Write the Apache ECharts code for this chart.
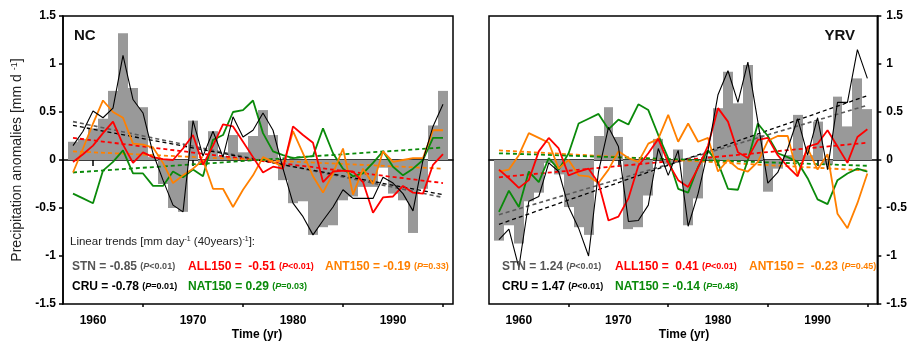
<!DOCTYPE html>
<html>
<head>
<meta charset="utf-8">
<script src="https://cdn.jsdelivr.net/npm/echarts@6/dist/echarts.min.js"></script>
<style>html,body{margin:0;padding:0;background:#fff;}#c{width:910px;height:342px;}</style>
</head>
<body>
<div id="c"></div>
<script>
// ---------- data ----------
const years = [1958,1959,1960,1961,1962,1963,1964,1965,1966,1967,1968,1969,1970,1971,1972,1973,1974,1975,1976,1977,1978,1979,1980,1981,1982,1983,1984,1985,1986,1987,1988,1989,1990,1991,1992,1993,1994,1995];

// NC panel
const ncStn = [0.19,0.22,0.33,0.43,0.72,1.32,0.75,0.55,0.03,-0.25,-0.50,-0.54,0.41,-0.05,0.30,0.04,0.26,0.08,0.25,0.52,0.26,-0.21,-0.45,-0.43,-0.78,-0.70,-0.68,-0.42,-0.38,-0.28,-0.28,-0.08,-0.35,-0.42,-0.76,-0.30,0.36,0.72];
const ncCru = [0.15,0.30,0.51,0.44,0.54,1.09,0.63,0.49,0.07,-0.21,-0.47,-0.54,0.41,0.04,0.30,0.03,0.45,0.24,0.31,0.49,0.31,-0.09,-0.45,-0.59,-0.78,-0.63,-0.49,-0.31,-0.40,-0.40,-0.40,-0.18,-0.24,-0.35,-0.53,0.00,0.35,0.58];
const ncAll = [-0.02,0.06,0.15,0.28,0.40,0.16,-0.03,0.08,0.03,0.01,0.00,0.12,0.26,-0.05,0.15,0.37,0.35,0.19,0.03,-0.13,-0.07,-0.09,0.35,0.26,0.18,-0.23,-0.12,-0.11,-0.12,-0.23,-0.55,-0.39,-0.38,-0.27,-0.34,-0.35,-0.05,0.06];
const ncAnt = [-0.13,0.12,0.38,0.62,0.50,0.44,0.17,0.16,0.13,-0.03,-0.24,-0.16,-0.09,0.00,-0.30,-0.30,-0.49,-0.31,-0.16,0.03,-0.02,-0.07,0.30,0.07,-0.17,-0.34,-0.14,0.12,-0.36,-0.09,-0.25,0.09,-0.02,0.00,0.02,0.02,0.31,0.31];
const ncNat = [-0.35,-0.40,-0.45,-0.11,-0.02,0.10,-0.14,-0.14,-0.27,-0.27,-0.12,-0.18,-0.10,-0.17,0.21,0.26,0.50,0.52,0.62,0.28,0.09,0.05,0.02,0.03,0.04,0.33,0.07,-0.09,-0.17,-0.14,-0.03,0.09,-0.07,-0.16,-0.09,0.00,0.23,0.23];

// YRV panel
const yrvStn = [-0.84,-0.68,-0.87,-0.43,-0.34,-0.03,-0.15,-0.49,-0.70,-0.78,0.25,0.55,0.24,-0.72,-0.70,-0.37,0.22,-0.04,0.11,-0.68,-0.40,0.04,0.54,0.92,0.59,0.99,0.26,-0.33,-0.09,0.05,0.47,0.05,0.40,-0.05,0.66,0.35,0.85,0.53];
const yrvCru = [-0.83,-0.72,-1.12,-0.43,-0.38,-0.03,-0.12,-0.49,-0.71,-1.00,-0.12,0.34,0.14,-0.64,-0.63,-0.47,0.12,-0.16,0.10,-0.69,-0.35,0.10,0.68,0.93,0.60,1.02,0.40,-0.24,-0.13,0.12,0.43,0.05,0.44,-0.10,0.60,0.60,1.15,0.85];
const yrvAll = [-0.10,-0.19,-0.29,-0.21,0.09,0.23,0.12,-0.16,-0.12,-0.09,-0.24,-0.63,-0.59,-0.40,-0.06,0.07,0.22,-0.03,-0.21,-0.28,-0.08,0.15,0.54,0.40,0.08,0.02,0.21,0.23,0.05,-0.07,-0.17,0.14,0.17,0.31,0.14,-0.03,0.24,0.32];
const yrvAnt = [-0.12,-0.10,0.05,0.28,0.23,0.18,-0.09,0.00,-0.16,-0.17,-0.24,-0.10,0.09,0.02,-0.02,0.17,0.22,0.47,0.19,0.38,0.19,0.23,-0.12,0.00,-0.09,-0.12,-0.02,0.20,0.25,0.25,-0.16,0.12,-0.10,0.06,-0.56,-0.71,-0.45,-0.14];
const yrvNat = [-0.54,-0.32,-0.49,-0.12,-0.23,0.02,-0.10,0.07,0.38,0.43,0.48,0.32,0.42,0.37,0.58,0.52,0.26,0.02,-0.30,-0.34,-0.07,0.10,-0.03,-0.30,-0.31,0.00,0.38,0.25,0.07,0.03,-0.02,-0.19,-0.41,-0.46,-0.21,-0.14,-0.09,-0.12];

// linear trend lines: values at first and last year
const trendYears = [1958, 1995];
const ncTrendStn = [0.40, -0.39];
const ncTrendCru = [0.36, -0.36];
const ncTrendAll = [0.23, -0.24];
const ncTrendAnt = [0.09, -0.09];
const ncTrendNat = [-0.13, 0.13];
const yrvTrendStn = [-0.57, 0.57];
const yrvTrendCru = [-0.67, 0.67];
const yrvTrendAll = [-0.18, 0.18];
const yrvTrendAnt = [0.10, -0.11];
const yrvTrendNat = [0.07, -0.06];

// ticks / labels
const xLabelYears = [1960, 1970, 1980, 1990];
const xMajorTicks = [1960, 1970, 1980, 1990];
const xMinorTicks = [1965, 1975, 1985, 1995];
const yTicks = [-1.5, -1, -0.5, 0, 0.5, 1, 1.5];

// trend text
const ncStatNames = ['STN', 'ALL150', 'ANT150', 'CRU', 'NAT150'];
const ncStatVals = ['-0.85', ' -0.51', '-0.19', '-0.78', '0.29'];
const ncStatP = ['<0.01', '<0.01', '=0.33', '=0.01', '=0.03'];
const yrvStatNames = ['STN', 'ALL150', 'ANT150', 'CRU', 'NAT150'];
const yrvStatVals = ['1.24', ' 0.41', ' -0.23', '1.47', '-0.14'];
const yrvStatP = ['<0.01', '<0.01', '=0.45', '<0.01', '=0.48'];

// ---------- styling ----------
const FONT = 'Liberation Sans, Arial, Helvetica, sans-serif';
const C = {stn:'#999999', stnTrend:'#5a5a5a', cru:'#000000', all:'#ff0000', ant:'#ff8000', nat:'#0a8a0a', stnText:'#555555'};
const statColors = [C.stnText, C.all, C.ant, C.cru, C.nat];

function pairs(vals){ return years.map((y,i)=>[y, vals[i]]); }
function tpairs(v){ return trendYears.map((y,i)=>[y, v[i]]); }

function renderBar(params, api){
  const x = api.value(0), v = api.value(1);
  const p0 = api.coord([x - 0.5, v]);
  const p1 = api.coord([x + 0.5, 0]);
  const x0 = Math.round(p0[0]), x1 = Math.round(p1[0]);
  return {type:'rect', shape:{x:x0, y:Math.min(p0[1], p1[1]), width:x1 - x0, height:Math.abs(p1[1] - p0[1])},
          style:{fill:C.stn}};
}

function panelSeries(g, stn, cru, all, ant, nat, tStn, tCru, tAll, tAnt, tNat){
  const base = {xAxisIndex: g*2, yAxisIndex: g, silent: true, animation: false};
  const line = (d, color, w, dash) => Object.assign({type:'line', data:d, symbol:'none', showSymbol:false,
      lineStyle:{color:color, width:w, type: dash ? [4,3] : 'solid'}}, base);
  return [
    Object.assign({type:'custom', renderItem: renderBar, data: pairs(stn), encode:{x:0, y:1}}, base),
    line(tpairs(tStn), C.stnTrend, 1.6, true),
    line(tpairs(tCru), C.cru, 1.3, true),
    line(tpairs(tAll), C.all, 1.8, true),
    line(tpairs(tAnt), C.ant, 1.8, true),
    line(tpairs(tNat), C.nat, 1.8, true),
    line(pairs(nat), C.nat, 1.8, false),
    line(pairs(ant), C.ant, 1.8, false),
    line(pairs(all), C.all, 1.8, false),
    line(pairs(cru), C.cru, 1.1, false)
  ];
}

function xAxes(g){
  return [
    {gridIndex:g, type:'value', min:1957, max:1996, position:'bottom',
     axisLine:{show:true, lineStyle:{color:'#000', width:1.5}},
     axisTick:{show:true, customValues:xMajorTicks, length:6, lineStyle:{color:'#000', width:1.5}},
     axisLabel:{show:true, customValues:xLabelYears, formatter: v => String(v), margin:11, color:'#000', fontSize:12, fontWeight:'bold', fontFamily:FONT},
     splitLine:{show:false}},
    {gridIndex:g, type:'value', min:1957, max:1996, position:'bottom', offset:0,
     axisLine:{show:false},
     axisTick:{show:true, customValues:xMinorTicks, length:3, lineStyle:{color:'#000', width:1.5}},
     axisLabel:{show:false}, splitLine:{show:false}}
  ];
}
function yAxis(g, pos){
  return {gridIndex:g, type:'value', min:-1.5, max:1.5, interval:0.5, position:pos,
    axisLine:{show:true, lineStyle:{color:'#000', width:1.5}},
    axisTick:{show:true, customValues:yTicks, length:4, lineStyle:{color:'#000', width:1.5}},
    axisLabel:{show:true, customValues:yTicks, formatter: v => String(v), margin: pos==='left' ? 7 : 9, color:'#000', fontSize:12, fontWeight:'bold', fontFamily:FONT},
    splitLine:{show:false}};
}

function statText(x, y, name, val, p, color){
  return {type:'text', silent:true, z:100, style:{
    x:x, y:y, verticalAlign:'middle', align:'left',
    text:'{b|' + name + ' = ' + val + '} {s|(}{i|P}{s|' + p + ')}',
    rich:{
      b:{fontSize:12, fontWeight:'bold', fontFamily:FONT, fill:color},
      s:{fontSize:9, fontWeight:'bold', fontFamily:FONT, fill:color},
      i:{fontSize:9, fontWeight:'bold', fontStyle:'italic', fontFamily:FONT, fill:color}
    }
  }};
}

const graphics = [];
const ncX = [72, 188, 325, 72, 188];
const ncY = [267, 267, 267, 287, 287];
const yrvX = [502, 615, 749, 502, 615];
for (let i=0;i<5;i++){
  graphics.push(statText(ncX[i], ncY[i], ncStatNames[i], ncStatVals[i], ncStatP[i], statColors[i]));
  graphics.push(statText(yrvX[i], ncY[i], yrvStatNames[i], yrvStatVals[i], yrvStatP[i], statColors[i]));
}
graphics.push({type:'text', silent:true, z:100, style:{x:70, y:242, verticalAlign:'middle',
  text:'{n|Linear trends [mm day}{u|-1}{n| (40years)}{u|-1}{n|]:}',
  rich:{ n:{fontSize:11.5, fontFamily:FONT, fill:'#222'}, u:{fontSize:7, fontFamily:FONT, fill:'#222', verticalAlign:'top'} }}});
graphics.push({type:'text', silent:true, z:100, style:{x:74, y:36, verticalAlign:'middle', text:'NC', fontSize:15, fontWeight:'bold', fontFamily:FONT, fill:'#111'}});
graphics.push({type:'text', silent:true, z:100, style:{x:855, y:36, align:'right', verticalAlign:'middle', text:'YRV', fontSize:15, fontWeight:'bold', fontFamily:FONT, fill:'#111'}});
graphics.push({type:'text', silent:true, z:100, style:{x:257, y:335, align:'center', verticalAlign:'middle', text:'Time (yr)', fontSize:12, fontWeight:'bold', fontFamily:FONT, fill:'#000'}});
graphics.push({type:'text', silent:true, z:100, style:{x:684, y:335, align:'center', verticalAlign:'middle', text:'Time (yr)', fontSize:12, fontWeight:'bold', fontFamily:FONT, fill:'#000'}});
graphics.push({type:'text', silent:true, z:100, x:17, y:160, rotation:Math.PI/2, style:{x:0, y:0, align:'center', verticalAlign:'middle',
  text:'{n|Precipitation anomalies [mm d }{u|-1}{n|]}',
  rich:{ n:{fontSize:14, fontFamily:FONT, fill:'#222'}, u:{fontSize:9, fontFamily:FONT, fill:'#222', verticalAlign:'top'} }}});

const chart = echarts.init(document.getElementById('c'), null, {renderer:'canvas'});
chart.setOption({
  animation:false,
  backgroundColor:'#fff',
  grid:[
    {left:63, top:16, width:390, height:288, show:true, borderColor:'#000', borderWidth:1.5, containLabel:false},
    {left:489, top:16, width:389, height:288, show:true, borderColor:'#000', borderWidth:1.5, containLabel:false}
  ],
  xAxis: xAxes(0).concat(xAxes(1)),
  yAxis: [yAxis(0,'left'), yAxis(1,'right')],
  series: panelSeries(0, ncStn, ncCru, ncAll, ncAnt, ncNat, ncTrendStn, ncTrendCru, ncTrendAll, ncTrendAnt, ncTrendNat)
    .concat(panelSeries(1, yrvStn, yrvCru, yrvAll, yrvAnt, yrvNat, yrvTrendStn, yrvTrendCru, yrvTrendAll, yrvTrendAnt, yrvTrendNat)),
  graphic: graphics
});
</script>
</body>
</html>
